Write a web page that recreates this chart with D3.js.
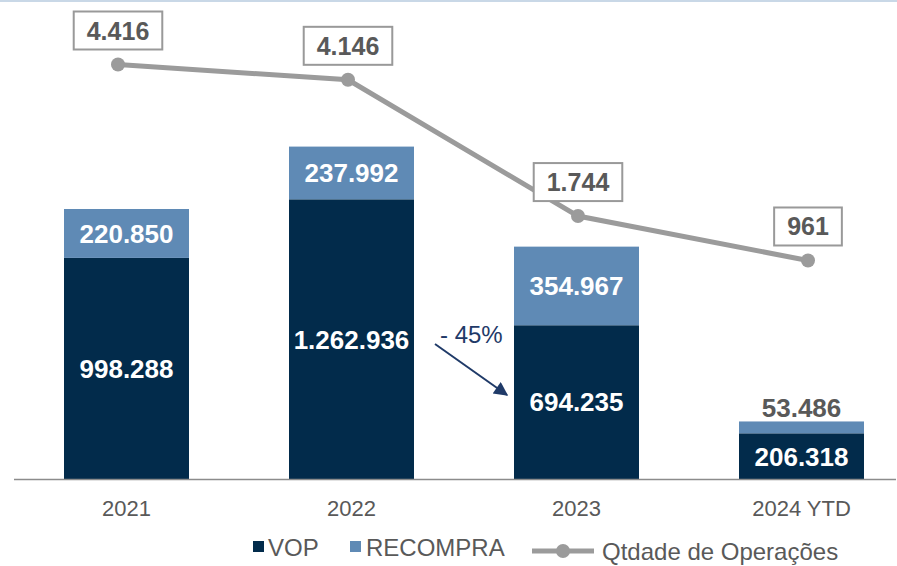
<!DOCTYPE html>
<html>
<head>
<meta charset="utf-8">
<script src="https://cdn.jsdelivr.net/npm/d3@7"></script>
<style>
  body { margin: 0; background: #fff; }
  svg { display: block; font-family: "Liberation Sans", Arial, sans-serif; }
</style>
</head>
<body>
<svg id="canvas" width="897" height="566"></svg>
<script>
const years = ["2021", "2022", "2023", "2024 YTD"];
const vop = [998288, 1262936, 694235, 206318];
const recompra = [220850, 237992, 354967, 53486];
const qtdOperacoes = [4416, 4146, 1744, 961];

const svg = d3.select("#canvas");
const width = 897;
const height = 566;

const colors = {
    vop: "#022b4b",
    recompra: "#5f8ab5",
    line: "#9b9b9b",
    text: "#595959",
    note: "#1f3a68"
};

const br = d3.formatLocale({ decimal: ",", thousands: ".", grouping: [3], currency: ["R$", ""] });
const fmt = br.format(",d");

// thin top rule
svg.append("rect")
    .attr("x", 0).attr("y", 0)
    .attr("width", width).attr("height", 2)
    .attr("fill", "#c9d8e7");

const x = d3.scaleBand()
    .domain(years)
    .range([14, 914])
    .paddingInner(100 / 225)
    .paddingOuter(50 / 225);

const baseY = 479;
const y = d3.scaleLinear()
    .domain([0, 1500000])
    .range([baseY, baseY - 332.2]);

// line series sits on its own category positions
const xLine = d3.scalePoint()
    .domain(years)
    .range([118, 808]);

const yLine = d3.scaleLinear()
    .domain([0, 4416])
    .range([315, 64.5]);

const rows = years.map((yr, i) => ({ year: yr, vop: vop[i], recompra: recompra[i], qtd: qtdOperacoes[i] }));

// bars
const g = svg.append("g");
rows.forEach(d => {
    const bx = x(d.year);
    const bw = x.bandwidth();
    const yVop = y(d.vop);
    const yTot = y(d.vop + d.recompra);

    g.append("rect")
        .attr("x", bx).attr("y", yVop)
        .attr("width", bw).attr("height", baseY - yVop)
        .attr("fill", colors.vop);

    g.append("rect")
        .attr("x", bx).attr("y", yTot)
        .attr("width", bw).attr("height", yVop - yTot)
        .attr("fill", colors.recompra);

    g.append("text")
        .attr("x", bx + bw / 2)
        .attr("y", (yVop + baseY) / 2)
        .attr("dy", "0.36em")
        .attr("text-anchor", "middle")
        .attr("font-size", "26px")
        .attr("font-weight", "bold")
        .attr("fill", "#fff")
        .text(fmt(d.vop));

    const segH = yVop - yTot;
    const inside = segH > 30;
    g.append("text")
        .attr("x", bx + bw / 2)
        .attr("y", inside ? (yTot + yVop) / 2 : yTot - 14)
        .attr("dy", "0.36em")
        .attr("text-anchor", "middle")
        .attr("font-size", "26px")
        .attr("font-weight", "bold")
        .attr("fill", inside ? "#fff" : colors.text)
        .text(fmt(d.recompra));
});

// axis
svg.append("line")
    .attr("x1", 14).attr("x2", 896)
    .attr("y1", baseY + 0.5).attr("y2", baseY + 0.5)
    .attr("stroke", "#8c8c8c")
    .attr("stroke-width", 1.6);

svg.selectAll("text.xlab")
    .data(years)
    .enter()
    .append("text")
    .attr("class", "xlab")
    .attr("x", d => x(d) + x.bandwidth() / 2)
    .attr("y", 516)
    .attr("text-anchor", "middle")
    .attr("font-size", "22px")
    .attr("fill", colors.text)
    .text(d => d);

// line series
const line = d3.line()
    .x(d => xLine(d.year))
    .y(d => yLine(d.qtd));

svg.append("path")
    .datum(rows)
    .attr("d", line)
    .attr("fill", "none")
    .attr("stroke", colors.line)
    .attr("stroke-width", 5);

svg.selectAll("circle.pt")
    .data(rows)
    .enter()
    .append("circle")
    .attr("class", "pt")
    .attr("cx", d => xLine(d.year))
    .attr("cy", d => yLine(d.qtd))
    .attr("r", 7)
    .attr("fill", colors.line);

// boxed labels on the line
rows.forEach(d => {
    const cx = xLine(d.year);
    const cy = yLine(d.qtd);
    const lbl = svg.append("g");
    const t = lbl.append("text")
        .attr("x", cx)
        .attr("y", cy - 15 - 19)
        .attr("dy", "0.36em")
        .attr("text-anchor", "middle")
        .attr("font-size", "25px")
        .attr("font-weight", "bold")
        .attr("fill", colors.text)
        .text(fmt(d.qtd));
    const w = t.node().getComputedTextLength() + 26;
    lbl.insert("rect", "text")
        .attr("x", cx - w / 2)
        .attr("y", cy - 15 - 38)
        .attr("width", w)
        .attr("height", 38)
        .attr("fill", "#fff")
        .attr("stroke", "#999")
        .attr("stroke-width", 2);
});

// -45% annotation
svg.append("defs").append("marker")
    .attr("id", "arrow")
    .attr("viewBox", "0 -5 10 10")
    .attr("refX", 9)
    .attr("refY", 0)
    .attr("markerWidth", 8)
    .attr("markerHeight", 7)
    .attr("markerUnits", "strokeWidth")
    .attr("orient", "auto")
    .append("path")
    .attr("d", "M0,-5L10,0L0,5Z")
    .attr("fill", colors.note);

svg.append("line")
    .attr("x1", 435).attr("y1", 344)
    .attr("x2", 507).attr("y2", 395)
    .attr("stroke", colors.note)
    .attr("stroke-width", 2)
    .attr("marker-end", "url(#arrow)");

svg.append("text")
    .attr("x", 440)
    .attr("y", 343)
    .attr("font-size", "24px")
    .attr("fill", colors.note)
    .text("- 45%");

// legend
const leg = svg.append("g");
leg.append("rect").attr("x", 253).attr("y", 541).attr("width", 11).attr("height", 11).attr("fill", colors.vop);
leg.append("text").attr("x", 268).attr("y", 556).attr("font-size", "24px").attr("fill", colors.text).text("VOP");
leg.append("rect").attr("x", 350).attr("y", 541).attr("width", 11).attr("height", 11).attr("fill", colors.recompra);
leg.append("text").attr("x", 366).attr("y", 556).attr("font-size", "24px").attr("fill", colors.text).text("RECOMPRA");
leg.append("line").attr("x1", 532).attr("x2", 594).attr("y1", 551).attr("y2", 551)
    .attr("stroke", colors.line).attr("stroke-width", 5);
leg.append("circle").attr("cx", 563).attr("cy", 551).attr("r", 7).attr("fill", colors.line);
leg.append("text").attr("x", 602).attr("y", 560).attr("font-size", "24px").attr("fill", colors.text).text("Qtdade de Operações");
</script>
</body>
</html>
